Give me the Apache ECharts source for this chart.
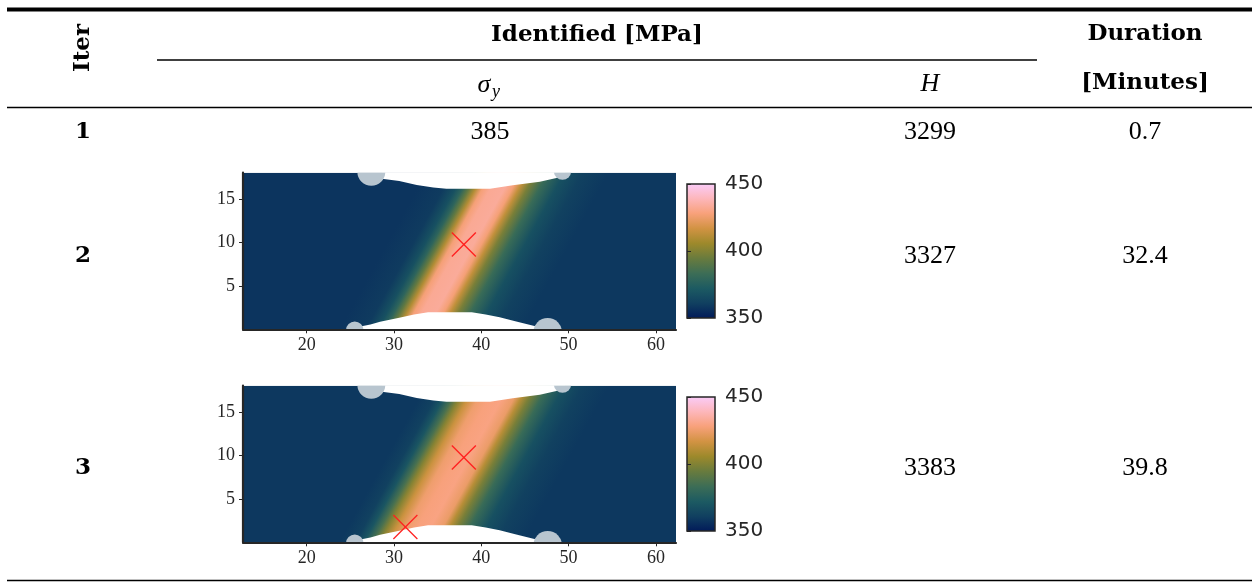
<!DOCTYPE html>
<html>
<head>
<meta charset="utf-8">
<script src="https://cdn.jsdelivr.net/npm/echarts@6/dist/echarts.min.js"></script>
<style>
  html, body { margin: 0; padding: 0; background: #ffffff; }
  #chart { width: 1252px; height: 583px; }
</style>
</head>
<body>
<div id="chart"></div>
<script>
// ---- Table contents ----
const iterLabels = ['1', '2', '3'];
const sigmaYRow1 = '385';              // rows 2 and 3 show identified fields
const hardeningH = ['3299', '3327', '3383'];
const durationMin = ['0.7', '32.4', '39.8'];

// ---- batlow colour map, 350–450 MPa ----
const cmapColors = ['#011959', '#103F60', '#1C5A62', '#3C6D56', '#687B3E',
                    '#9D892B', '#D29343', '#F8A17B', '#FDB7BC', '#FACCFA'];
const cbarMin = 350;
const cbarMax = 450;

// ---- Axis ticks (mm) ----
const xTicks = [20, 30, 40, 50, 60];
const yTicks = [5, 10, 15];
const xRange = [12.7, 62.3];
const yRange = [0, 18];

// ---- Identified yield stress across the shear band ----
// offset from band centre line along x (mm) and σy (MPa)
const bandOffsetsIter2 = [-9, -6, -4.6, -3.8, -3.06, -2.3, -1.5, -0.6, 1.0, 1.9, 2.67, 3.6, 5.0, 6.9, 9, 12];
const bandValuesIter2  = [358, 360, 368, 378, 393, 410, 427, 432, 433, 427, 413, 398, 382, 368, 362, 359];
const bandOffsetsIter3 = [-9, -7.2, -6.2, -5.2, -4.4, -3.4, -2.2, -1.0, 0.5, 1.9, 2.67, 3.6, 5.0, 6.9, 9, 12];
const bandValuesIter3  = [359, 362, 370, 386, 401, 415, 425, 428, 429, 424, 411, 398, 382, 368, 362, 359];

// band centre line: through (bandX, bandY), dx/dy = bandSlope
const bandX = 38.1;
const bandY = 9.75;
const bandSlope = 0.55;

// ---- Specimen geometry (mm) ----
const topNotchX = [28.6, 28.6, 30.6, 32.6, 34.5, 36.0, 41.0, 43.6, 46.7, 48.6, 49.6, 49.6];
const topNotchY = [19.0, 17.3, 17.05, 16.6, 16.3, 16.15, 16.15, 16.55, 16.95, 17.4, 17.6, 19.0];
const botNotchX = [26.0, 26.0, 27.3, 28.4, 30.6, 32.3, 33.9, 38.9, 40.5, 42.1, 44.0, 46.2, 46.2];
const botNotchY = [-1.0, 0.3, 0.55, 0.87, 1.33, 1.7, 1.95, 1.95, 1.7, 1.38, 0.9, 0.35, -1.0];
const supportX = [27.4, 49.3, 25.5, 47.6];
const supportY = [18.1, 18.2, -0.1, -0.35];
const supportR = [1.6, 1.0, 1.0, 1.65];

// ---- Identified points ----
const pointsIter2X = [38.0];
const pointsIter2Y = [9.75];
const pointsIter3X = [38.0, 31.3];
const pointsIter3Y = [9.75, 1.75];

const INK = '#262626';

function cmap(v) {
  const t = Math.min(1, Math.max(0, (v - cbarMin) / (cbarMax - cbarMin)));
  return echarts.color.lerp(t, cmapColors);
}

// Specimen field: rectangle filled along the band, notches and supports on top
function fieldRenderer(offsets, values) {
  return function (params, api) {
    const tl = api.coord([xRange[0], yRange[1]]);
    const br = api.coord([xRange[1], yRange[0]]);
    const c0 = api.coord([bandX, bandY]);
    const c1 = api.coord([bandX + bandSlope * 5, bandY + 5]);
    let dx = c1[0] - c0[0], dy = c1[1] - c0[1];
    const len = Math.hypot(dx, dy);
    dx /= len; dy /= len;
    let nx = -dy, ny = dx;
    if (nx < 0) { nx = -nx; ny = -ny; }
    const kx = api.coord([1, 0])[0] - api.coord([0, 0])[0];
    const oMin = offsets[0], oMax = offsets[offsets.length - 1];
    const sMin = oMin * kx * nx, sMax = oMax * kx * nx;
    const stops = offsets.map((o, i) => ({ offset: (o - oMin) / (oMax - oMin), color: cmap(values[i]) }));
    const grad = new echarts.graphic.LinearGradient(
      c0[0] + nx * sMin, c0[1] + ny * sMin,
      c0[0] + nx * sMax, c0[1] + ny * sMax, stops, true);

    const children = [{
      type: 'rect',
      shape: { x: tl[0], y: tl[1], width: br[0] - tl[0], height: br[1] - tl[1] },
      style: { fill: grad }
    }, {
      type: 'polygon',
      shape: { points: topNotchX.map((x, i) => api.coord([x, topNotchY[i]])) },
      style: { fill: '#ffffff' }
    }, {
      type: 'polygon',
      shape: { points: botNotchX.map((x, i) => api.coord([x, botNotchY[i]])) },
      style: { fill: '#ffffff' }
    }];
    supportX.forEach((x, i) => {
      const c = api.coord([x, supportY[i]]);
      children.push({
        type: 'circle',
        shape: { cx: c[0], cy: c[1], r: supportR[i] * kx },
        style: { fill: '#b8c5cf' }
      });
    });
    return { type: 'group', children };
  };
}

function crossRenderer(params, api) {
  const p = api.coord([api.value(0), api.value(1)]);
  const h = 12;
  const st = { stroke: '#ff1f1f', lineWidth: 1.3 };
  return {
    type: 'group',
    children: [
      { type: 'line', shape: { x1: p[0] - h, y1: p[1] - h, x2: p[0] + h, y2: p[1] + h }, style: st },
      { type: 'line', shape: { x1: p[0] - h, y1: p[1] + h, x2: p[0] + h, y2: p[1] - h }, style: st }
    ]
  };
}

function colorbarRenderer(params, api) {
  const a = api.coord([0, cbarMax]);
  const b = api.coord([1, cbarMin]);
  const stops = cmapColors.map((c, i) => ({ offset: 1 - i / (cmapColors.length - 1), color: c }));
  return {
    type: 'rect',
    shape: { x: a[0], y: a[1], width: b[0] - a[0], height: b[1] - a[1] },
    style: {
      fill: new echarts.graphic.LinearGradient(0, 0, 0, 1, stops),
      stroke: INK, lineWidth: 1.5
    }
  };
}

// ---- Layout ----
const plotLeft = 243, plotWidth = 433, plotHeight = 156.6;
const plotTops = [172.7, 385.7];
const cbarLeft = 687, cbarWidth = 28, cbarHeight = 134;
const cbarTops = [184, 397];

const grids = [], xAxes = [], yAxes = [];
plotTops.forEach((top) => {
  grids.push({ left: plotLeft, top: top, width: plotWidth, height: plotHeight });
});
cbarTops.forEach((top) => {
  grids.push({ left: cbarLeft, top: top, width: cbarWidth, height: cbarHeight });
});

const serifTick = { fontFamily: 'Liberation Serif', fontSize: 18, color: INK };
[0, 1].forEach((g) => {
  xAxes.push({
    type: 'value', gridIndex: g, min: xRange[0], max: xRange[1], z: 5,
    axisLine: { show: true, onZero: false, lineStyle: { color: INK, width: 2.2 } },
    axisTick: { show: true, customValues: xTicks, length: 4, lineStyle: { color: INK, width: 1 } },
    axisLabel: Object.assign({ customValues: xTicks, margin: 7 }, serifTick),
    splitLine: { show: false }
  });
  yAxes.push({
    type: 'value', gridIndex: g, min: yRange[0], max: yRange[1], z: 5,
    axisLine: { show: true, onZero: false, lineStyle: { color: INK, width: 2.2 } },
    axisTick: { show: true, customValues: yTicks, length: 4, lineStyle: { color: INK, width: 1 } },
    axisLabel: Object.assign({ customValues: yTicks, margin: 8 }, serifTick),
    splitLine: { show: false }
  });
});
[2, 3].forEach((g) => {
  xAxes.push({ type: 'value', gridIndex: g, min: 0, max: 1, show: false });
  yAxes.push({
    type: 'value', gridIndex: g, min: cbarMin, max: cbarMax, interval: 50,
    position: 'right', z: 5,
    axisLine: { show: false },
    axisTick: { show: true, length: 4, lineStyle: { color: INK, width: 1 } },
    axisLabel: { margin: 10, fontFamily: 'DejaVu Sans', fontSize: 20, color: INK },
    splitLine: { show: false }
  });
});

const series = [
  { type: 'custom', xAxisIndex: 0, yAxisIndex: 0, clip: true, z: 1, silent: true,
    data: [[bandX, bandY]], renderItem: fieldRenderer(bandOffsetsIter2, bandValuesIter2) },
  { type: 'custom', xAxisIndex: 1, yAxisIndex: 1, clip: true, z: 1, silent: true,
    data: [[bandX, bandY]], renderItem: fieldRenderer(bandOffsetsIter3, bandValuesIter3) },
  { type: 'custom', xAxisIndex: 0, yAxisIndex: 0, z: 6, silent: true,
    data: pointsIter2X.map((x, i) => [x, pointsIter2Y[i]]), renderItem: crossRenderer },
  { type: 'custom', xAxisIndex: 1, yAxisIndex: 1, z: 6, silent: true,
    data: pointsIter3X.map((x, i) => [x, pointsIter3Y[i]]), renderItem: crossRenderer },
  { type: 'custom', xAxisIndex: 2, yAxisIndex: 2, z: 1, silent: true,
    data: [[0, cbarMin]], renderItem: colorbarRenderer },
  { type: 'custom', xAxisIndex: 3, yAxisIndex: 3, z: 1, silent: true,
    data: [[0, cbarMin]], renderItem: colorbarRenderer }
];

// ---- Table text and rules ----
const colIter = 83, colSigma = 490, colH = 930, colDur = 1145;
const rowY = [132, 256, 468];
const boldHead = { fontFamily: 'DejaVu Serif', fontWeight: 'bold', fontSize: 23, fill: '#000' };
const plain = { fontFamily: 'Liberation Serif', fontSize: 26, fill: '#000' };
const italic = { fontFamily: 'Liberation Serif', fontStyle: 'italic', fontSize: 26, fill: '#000' };

function text(x, y, s, base, extra) {
  return Object.assign({
    type: 'text', x: x, y: y, silent: true,
    style: Object.assign({ text: s, align: 'center', verticalAlign: 'middle' }, base)
  }, extra || {});
}
function rule(x1, x2, y, w) {
  return { type: 'rect', silent: true, shape: { x: x1, y: y - w / 2, width: x2 - x1, height: w }, style: { fill: '#000' } };
}

const graphics = [
  rule(7, 1252, 9.5, 4),
  rule(157, 1037, 60, 1.3),
  rule(7, 1252, 107.5, 1.3),
  rule(7, 1252, 580.5, 1.6),
  text(colIter, 48, 'Iter', boldHead, { rotation: Math.PI / 2 }),
  text(597, 35, 'Identified [MPa]', boldHead),
  text(colDur, 34, 'Duration', boldHead),
  text(colSigma - 6, 85, 'σ', italic),
  text(colSigma + 6, 92, 'y', Object.assign({}, italic, { fontSize: 18 })),
  text(colH, 84, 'H', italic),
  text(colDur, 83, '[Minutes]', boldHead),
  text(colSigma, rowY[0], sigmaYRow1, plain)
];
iterLabels.forEach((s, i) => {
  graphics.push(text(colIter, rowY[i], s, boldHead));
  graphics.push(text(colH, rowY[i], hardeningH[i], plain));
  graphics.push(text(colDur, rowY[i], durationMin[i], plain));
});

const chart = echarts.init(document.getElementById('chart'), null, { renderer: 'canvas' });
chart.setOption({
  animation: false,
  backgroundColor: '#ffffff',
  grid: grids,
  xAxis: xAxes,
  yAxis: yAxes,
  series: series,
  graphic: graphics
});
</script>
</body>
</html>
